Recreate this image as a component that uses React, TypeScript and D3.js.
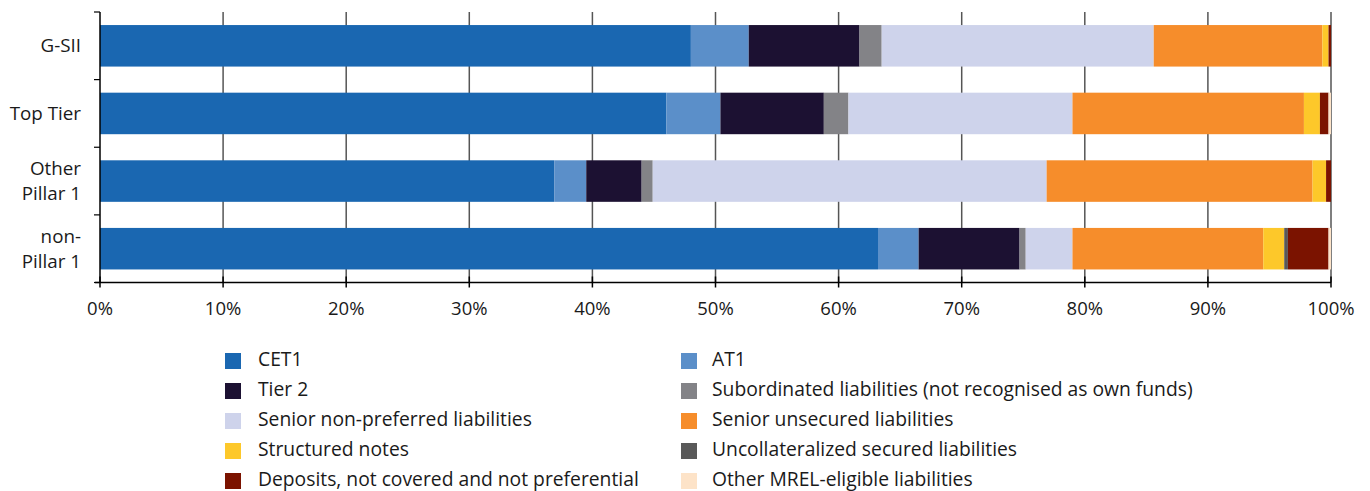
import React from "react";
import * as d3 from "d3";

const categories = ["G-SII", "Top Tier", "Other Pillar 1", "non-Pillar 1"];
const categoryLines = [["G-SII"], ["Top Tier"], ["Other", "Pillar 1"], ["non-", "Pillar 1"]];

const seriesNames = [
  "CET1",
  "AT1",
  "Tier 2",
  "Subordinated liabilities (not recognised as own funds)",
  "Senior non-preferred liabilities",
  "Senior unsecured liabilities",
  "Structured notes",
  "Uncollateralized secured liabilities",
  "Deposits, not covered and not preferential",
  "Other MREL-eligible liabilities",
];
const seriesColors = [
  "#1a67b1", "#5b8fc9", "#1c1132", "#838387", "#ced3eb",
  "#f68d2b", "#fdc82a", "#595959", "#7b1300", "#fde3c8",
];

// values per series in % (order: G-SII, Top Tier, Other Pillar 1, non-Pillar 1)
const cet1 = [48.0, 46.0, 36.9, 63.2];
const at1 = [4.7, 4.4, 2.6, 3.3];
const tier2 = [9.0, 8.4, 4.5, 8.2];
const subordinated = [1.8, 2.0, 0.9, 0.5];
const seniorNonPreferred = [22.1, 18.2, 32.0, 3.8];
const seniorUnsecured = [13.7, 18.8, 21.6, 15.5];
const structuredNotes = [0.5, 1.3, 1.1, 1.7];
const uncollateralized = [0.0, 0.0, 0.0, 0.3];
const deposits = [0.2, 0.7, 0.4, 3.3];
const otherMrel = [0.0, 0.2, 0.0, 0.2];

const seriesValues = [
  cet1, at1, tier2, subordinated, seniorNonPreferred,
  seniorUnsecured, structuredNotes, uncollateralized, deposits, otherMrel,
];

const xTicks = [0, 10, 20, 30, 40, 50, 60, 70, 80, 90, 100];

const FONT = "'Open Sans', 'Noto Sans', sans-serif";

export default function App() {
  const width = 1370;
  const height = 491;
  const left = 100;
  const right = 1331;
  const top = 12;
  const bottom = 282.5;

  const x = d3.scaleLinear().domain([0, 100]).range([left, right]);
  const y = d3.scaleBand<string>().domain(categories).range([top, bottom]).paddingInner(0.386).paddingOuter(0.193);
  const band = d3.scaleBand<string>().domain(categories).range([top, bottom]);

  const rows = categories.map((c, i) => {
    const obj: Record<string, number | string> = { cat: c };
    seriesNames.forEach((s, j) => (obj[s] = seriesValues[j][i]));
    return obj;
  });
  const stack = d3.stack<Record<string, number | string>>().keys(seriesNames).value((d, k) => d[k] as number);
  const layers = stack(rows);

  const boundaries = [...categories.map((c) => band(c)!), bottom];

  return (
    <svg width={width} height={height} style={{ position: "absolute", left: 0, top: 0, fontFamily: FONT }}>
      {/* gridlines */}
      {xTicks.slice(1).map((t) => (
        <line key={"g" + t} x1={x(t)} x2={x(t)} y1={top} y2={bottom} stroke="#555" strokeWidth={1.5} />
      ))}
      {/* bars */}
      {layers.map((layer, j) => (
        <g key={j} fill={seriesColors[j]}>
          {layer.map((d, i) => {
            const w = x(d[1]) - x(d[0]);
            if (w <= 0) return null;
            return <rect key={i} x={x(d[0])} y={y(categories[i])} width={w} height={y.bandwidth()} />;
          })}
        </g>
      ))}
      {/* y axis */}
      <line x1={left} x2={left} y1={top} y2={bottom} stroke="#000" strokeWidth={1.5} />
      {boundaries.map((b, i) => (
        <line key={"yt" + i} x1={94} x2={left} y1={b} y2={b} stroke="#000" strokeWidth={1.2} />
      ))}
      {categories.map((c, i) => {
        const cy = y(c)! + y.bandwidth() / 2;
        const lines = categoryLines[i];
        const lh = 25;
        const y0 = cy - ((lines.length - 1) * lh) / 2;
        return (
          <text key={c} x={81} textAnchor="end" fontSize={18.8} fill="#1a1a1a">
            {lines.map((l, k) => (
              <tspan key={k} x={81} y={y0 + k * lh} dy="0.35em">{l}</tspan>
            ))}
          </text>
        );
      })}
      {/* x axis */}
      <line x1={95} x2={right} y1={bottom} y2={bottom} stroke="#000" strokeWidth={1.5} />
      {xTicks.map((t) => (
        <g key={"xt" + t}>
          <line x1={x(t)} x2={x(t)} y1={bottom - 6} y2={bottom + 5} stroke="#000" strokeWidth={1.5} />
          <text x={x(t)} y={315} textAnchor="middle" fontSize={18.5} fill="#1a1a1a">{t}%</text>
        </g>
      ))}
      {/* legend */}
      {seriesNames.map((s, j) => {
        const col = j % 2;
        const row = Math.floor(j / 2);
        const sx = col === 0 ? 225 : 681;
        const tx = col === 0 ? 258 : 712;
        const cy = 360.5 + row * 30;
        return (
          <g key={"lg" + j}>
            <rect x={sx} y={cy - 7.5} width={16} height={16} fill={seriesColors[j]} />
            <text x={tx} y={cy} dy="0.28em" fontSize={19.3} fill="#1a1a1a">{s}</text>
          </g>
        );
      })}
    </svg>
  );
}
